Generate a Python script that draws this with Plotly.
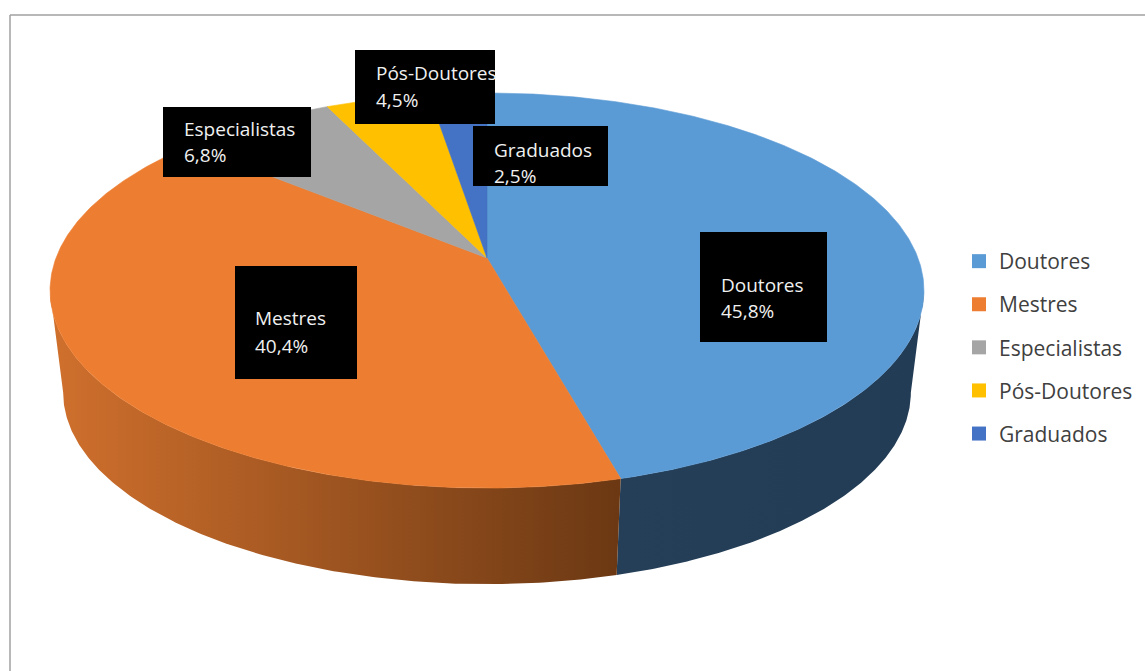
import numpy as np
import plotly.graph_objects as go

# ---- data ----
categories = ["Doutores", "Mestres", "Especialistas", "Pós-Doutores", "Graduados"]
values = [45.8, 40.4, 6.8, 4.5, 2.5]
pct_labels = ["45,8%", "40,4%", "6,8%", "4,5%", "2,5%"]

# ---- style ----
top_colors = ["#5b9bd5", "#ed7d31", "#a5a5a5", "#ffc000", "#4472c4"]
side_scales = [
    [[0, "#253f59"], [1, "#233c55"]],
    [[0, "#d0702d"], [1, "#6b3813"]],
    [[0, "#7f7f7f"], [1, "#5a5a5a"]],
    [[0, "#bf9000"], [1, "#8f6c00"]],
    [[0, "#2f5597"], [1, "#203864"]],
]
# label box layout (x0, y0, x1, y1) in pixels, and text rows
label_boxes = [
    (700, 232, 827, 342),
    (235, 266, 357, 379),
    (163, 107, 311, 177),
    (355, 50, 495, 124),
    (473, 126, 608, 186),
]
label_text_x = [719, 253, 182, 374, 492]
label_row1_y = [285, 318, 129, 73, 150]
label_row2_y = [311, 346, 155, 100, 176]

# ---- 3D pie geometry (pixel space) ----
W, H = 1145, 671
CX, CY = 487, 258
RX, RY = 431, 192.2
K = 0.1646      # perspective
S = 0.97        # bottom face scale
D = 103         # depth


def top_pt(th):
    t = np.radians(th)
    u, v = np.sin(t), np.cos(t)
    w = 1 + K * v
    return CX + RX * u / w, CY - RY * v / w


def bot_pt(th):
    t = np.radians(th)
    u, v = np.sin(t), np.cos(t)
    w = 1 + K * v
    return CX + S * RX * u / w, CY + D - S * RY * v / w


total = sum(values)
starts = np.concatenate([[0], np.cumsum(values)[:-1]]) / total * 360
ends = np.cumsum(values) / total * 360
lo = np.degrees(np.arccos(-K))
hi = 360 - lo

fig = go.Figure()

# sides
for i, (a0, a1) in enumerate(zip(starts, ends)):
    s0, s1 = max(a0, lo), min(a1, hi)
    if s1 <= s0:
        continue
    th = np.linspace(s0, s1, 200)
    tx, ty = top_pt(th)
    bx, by = bot_pt(th[::-1])
    fig.add_trace(go.Scatter(
        x=np.concatenate([tx, bx, tx[:1]]), y=np.concatenate([ty, by, ty[:1]]),
        mode="lines", fill="toself", line=dict(width=0),
        fillcolor=side_scales[i][0][1],
        fillgradient=dict(type="horizontal", colorscale=side_scales[i]),
        showlegend=False, hoverinfo="skip"))

# top faces
for i, (a0, a1) in enumerate(zip(starts, ends)):
    th = np.linspace(a0, a1, 300)
    tx, ty = top_pt(th)
    fig.add_trace(go.Scatter(
        x=np.concatenate([[CX], tx, [CX]]), y=np.concatenate([[CY], ty, [CY]]),
        mode="lines", fill="toself", line=dict(width=0.6, color=top_colors[i]),
        fillcolor=top_colors[i], showlegend=False,
        name=categories[i], text=f"{categories[i]}: {pct_labels[i]}",
        hoverinfo="text"))

# legend entries
for i, c in enumerate(categories):
    fig.add_trace(go.Scatter(
        x=[None], y=[None], mode="markers", name=c, legendgroup=c,
        marker=dict(symbol="square", size=14, color=top_colors[i], line=dict(width=0))))

shapes = [
    dict(type="line", xref="x", yref="y", x0=10, y0=15, x1=W, y1=15,
         line=dict(color="#a0a0a0", width=1.5), layer="above"),
    dict(type="line", xref="x", yref="y", x0=10, y0=15, x1=10, y1=H,
         line=dict(color="#a0a0a0", width=1.5), layer="above"),
]
annotations = []
for i, (x0, y0, x1, y1) in enumerate(label_boxes):
    shapes.append(dict(type="rect", xref="x", yref="y", x0=x0, y0=y0, x1=x1, y1=y1,
                       fillcolor="black", line=dict(width=0), layer="above"))
    for txt, yy in ((categories[i], label_row1_y[i]), (pct_labels[i], label_row2_y[i])):
        annotations.append(dict(x=label_text_x[i], y=yy, xref="x", yref="y", text=txt,
                                showarrow=False, xanchor="left", yanchor="middle",
                                font=dict(family="Open Sans", size=19, color="#f0f0f0")))

fig.update_layout(
    width=W, height=H, margin=dict(l=0, r=0, t=0, b=0),
    paper_bgcolor="white", plot_bgcolor="white",
    xaxis=dict(range=[0, W], visible=False, fixedrange=True),
    yaxis=dict(range=[H, 0], visible=False, fixedrange=True),
    shapes=shapes, annotations=annotations,
    showlegend=True,
    legend=dict(x=959 / W, y=1 - 241 / H, xanchor="left", yanchor="top",
                font=dict(family="Open Sans", size=21, color="#404040"),
                tracegroupgap=12.8, bgcolor="rgba(0,0,0,0)", itemclick=False),
)

fig.write_html("out.html")
